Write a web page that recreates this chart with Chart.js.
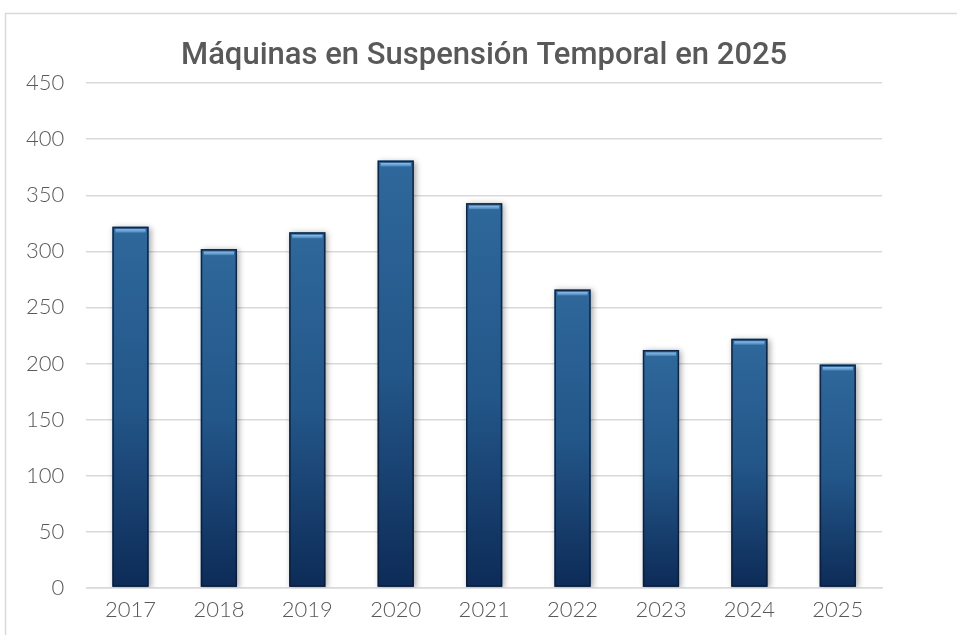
<!DOCTYPE html>
<html>
<head>
<meta charset="utf-8">
<script src="https://cdn.jsdelivr.net/npm/chart.js@4.4.1/dist/chart.umd.min.js"></script>
<style>
  html, body { margin: 0; padding: 0; background: #fff; }
  #wrap { width: 957px; height: 635px; position: relative; }
</style>
</head>
<body>
<div id="wrap"><canvas id="myChart" width="957" height="635"></canvas></div>
<script>
// data
const years = ['2017', '2018', '2019', '2020', '2021', '2022', '2023', '2024', '2025'];
const machines = [322, 302, 317, 381, 343, 266, 212, 222, 199];
const yTicks = [0, 50, 100, 150, 200, 250, 300, 350, 400, 450];

const tickFont = { family: 'Lato', size: 22, weight: '300' };

// gradient per bar, from its top down to the base
function barGradient(context) {
    const chart = context.chart;
    const area = chart.chartArea;
    if (!area) return '#1f4f80';
    const v = context.parsed ? context.parsed.y : machines[context.dataIndex];
    const y = chart.scales.y;
    const top = y.getPixelForValue(v);
    const base = y.getPixelForValue(0);
    const g = chart.ctx.createLinearGradient(0, top, 0, base);
    g.addColorStop(0, '#2f689b');
    g.addColorStop(0.5, '#235689');
    g.addColorStop(1, '#0d2b57');
    return g;
}

const frame = {
    id: 'frame',
    beforeDraw(chart) {
        const c = chart.ctx;
        c.save();
        c.strokeStyle = '#d9d9d9';
        c.lineWidth = 1.5;
        c.beginPath();
        c.moveTo(5.5, chart.height);
        c.lineTo(5.5, 13.5);
        c.lineTo(chart.width, 13.5);
        c.stroke();
        c.restore();
    }
};

const barShadow = {
    id: 'barShadow',
    beforeDatasetDraw(chart) {
        const c = chart.ctx;
        c.save();
        c.shadowColor = 'rgba(0,0,0,0.35)';
        c.shadowBlur = 6;
        c.shadowOffsetX = 2;
        c.shadowOffsetY = 1;
    },
    afterDatasetDraw(chart) {
        chart.ctx.restore();
    }
};

// dark edges and the light bevel line at the top of each bar
const bevel = {
    id: 'bevel',
    afterDatasetsDraw(chart) {
        const c = chart.ctx;
        const meta = chart.getDatasetMeta(0);
        c.save();
        meta.data.forEach(function (bar) {
            const w = bar.width;
            const left = bar.x - w / 2;
            const top = bar.y;
            const base = bar.base;
            c.strokeStyle = 'rgba(8,28,55,0.85)';
            c.lineWidth = 1.5;
            c.strokeRect(left + 0.75, top + 0.75, w - 1.5, base - top - 1.5);
            const hl = c.createLinearGradient(0, top + 2, 0, top + 6);
            hl.addColorStop(0, '#9cc6ee');
            hl.addColorStop(1, '#4683bb');
            c.fillStyle = hl;
            c.fillRect(left + 3, top + 2.5, w - 6, 3.5);
        });
        c.restore();
    }
};

const ctx = document.getElementById('myChart').getContext('2d');
const chart = new Chart(ctx, {
    type: 'bar',
    data: {
        labels: years,
        datasets: [{
            label: 'Máquinas',
            data: machines,
            backgroundColor: barGradient,
            borderWidth: 0,
            categoryPercentage: 1.0,
            barPercentage: 0.41
        }]
    },
    options: {
        responsive: false,
        animation: false,
        devicePixelRatio: 1,
        layout: { padding: { left: 4, right: 75, top: 38, bottom: 11 } },
        plugins: {
            legend: { display: false },
            tooltip: { enabled: false },
            title: {
                display: true,
                fullSize: false,
                text: 'Máquinas en Suspensión Temporal en 2025',
                color: '#595959',
                font: { family: 'Roboto', size: 31, weight: '500' },
                padding: { top: 0, bottom: 8 }
            }
        },
        scales: {
            x: {
                grid: { display: false },
                border: { display: true, color: '#d9d9d9', width: 1.5 },
                ticks: { color: '#595959', font: tickFont, padding: 1 }
            },
            y: {
                min: 0,
                max: 450,
                afterBuildTicks(axis) {
                    axis.ticks = yTicks.map(v => ({ value: v }));
                },
                grid: { color: '#d9d9d9', lineWidth: 1.5, drawTicks: false },
                border: { display: false },
                ticks: { color: '#595959', font: tickFont, padding: 22 }
            }
        }
    },
    plugins: [frame, barShadow, bevel]
});
</script>
</body>
</html>
